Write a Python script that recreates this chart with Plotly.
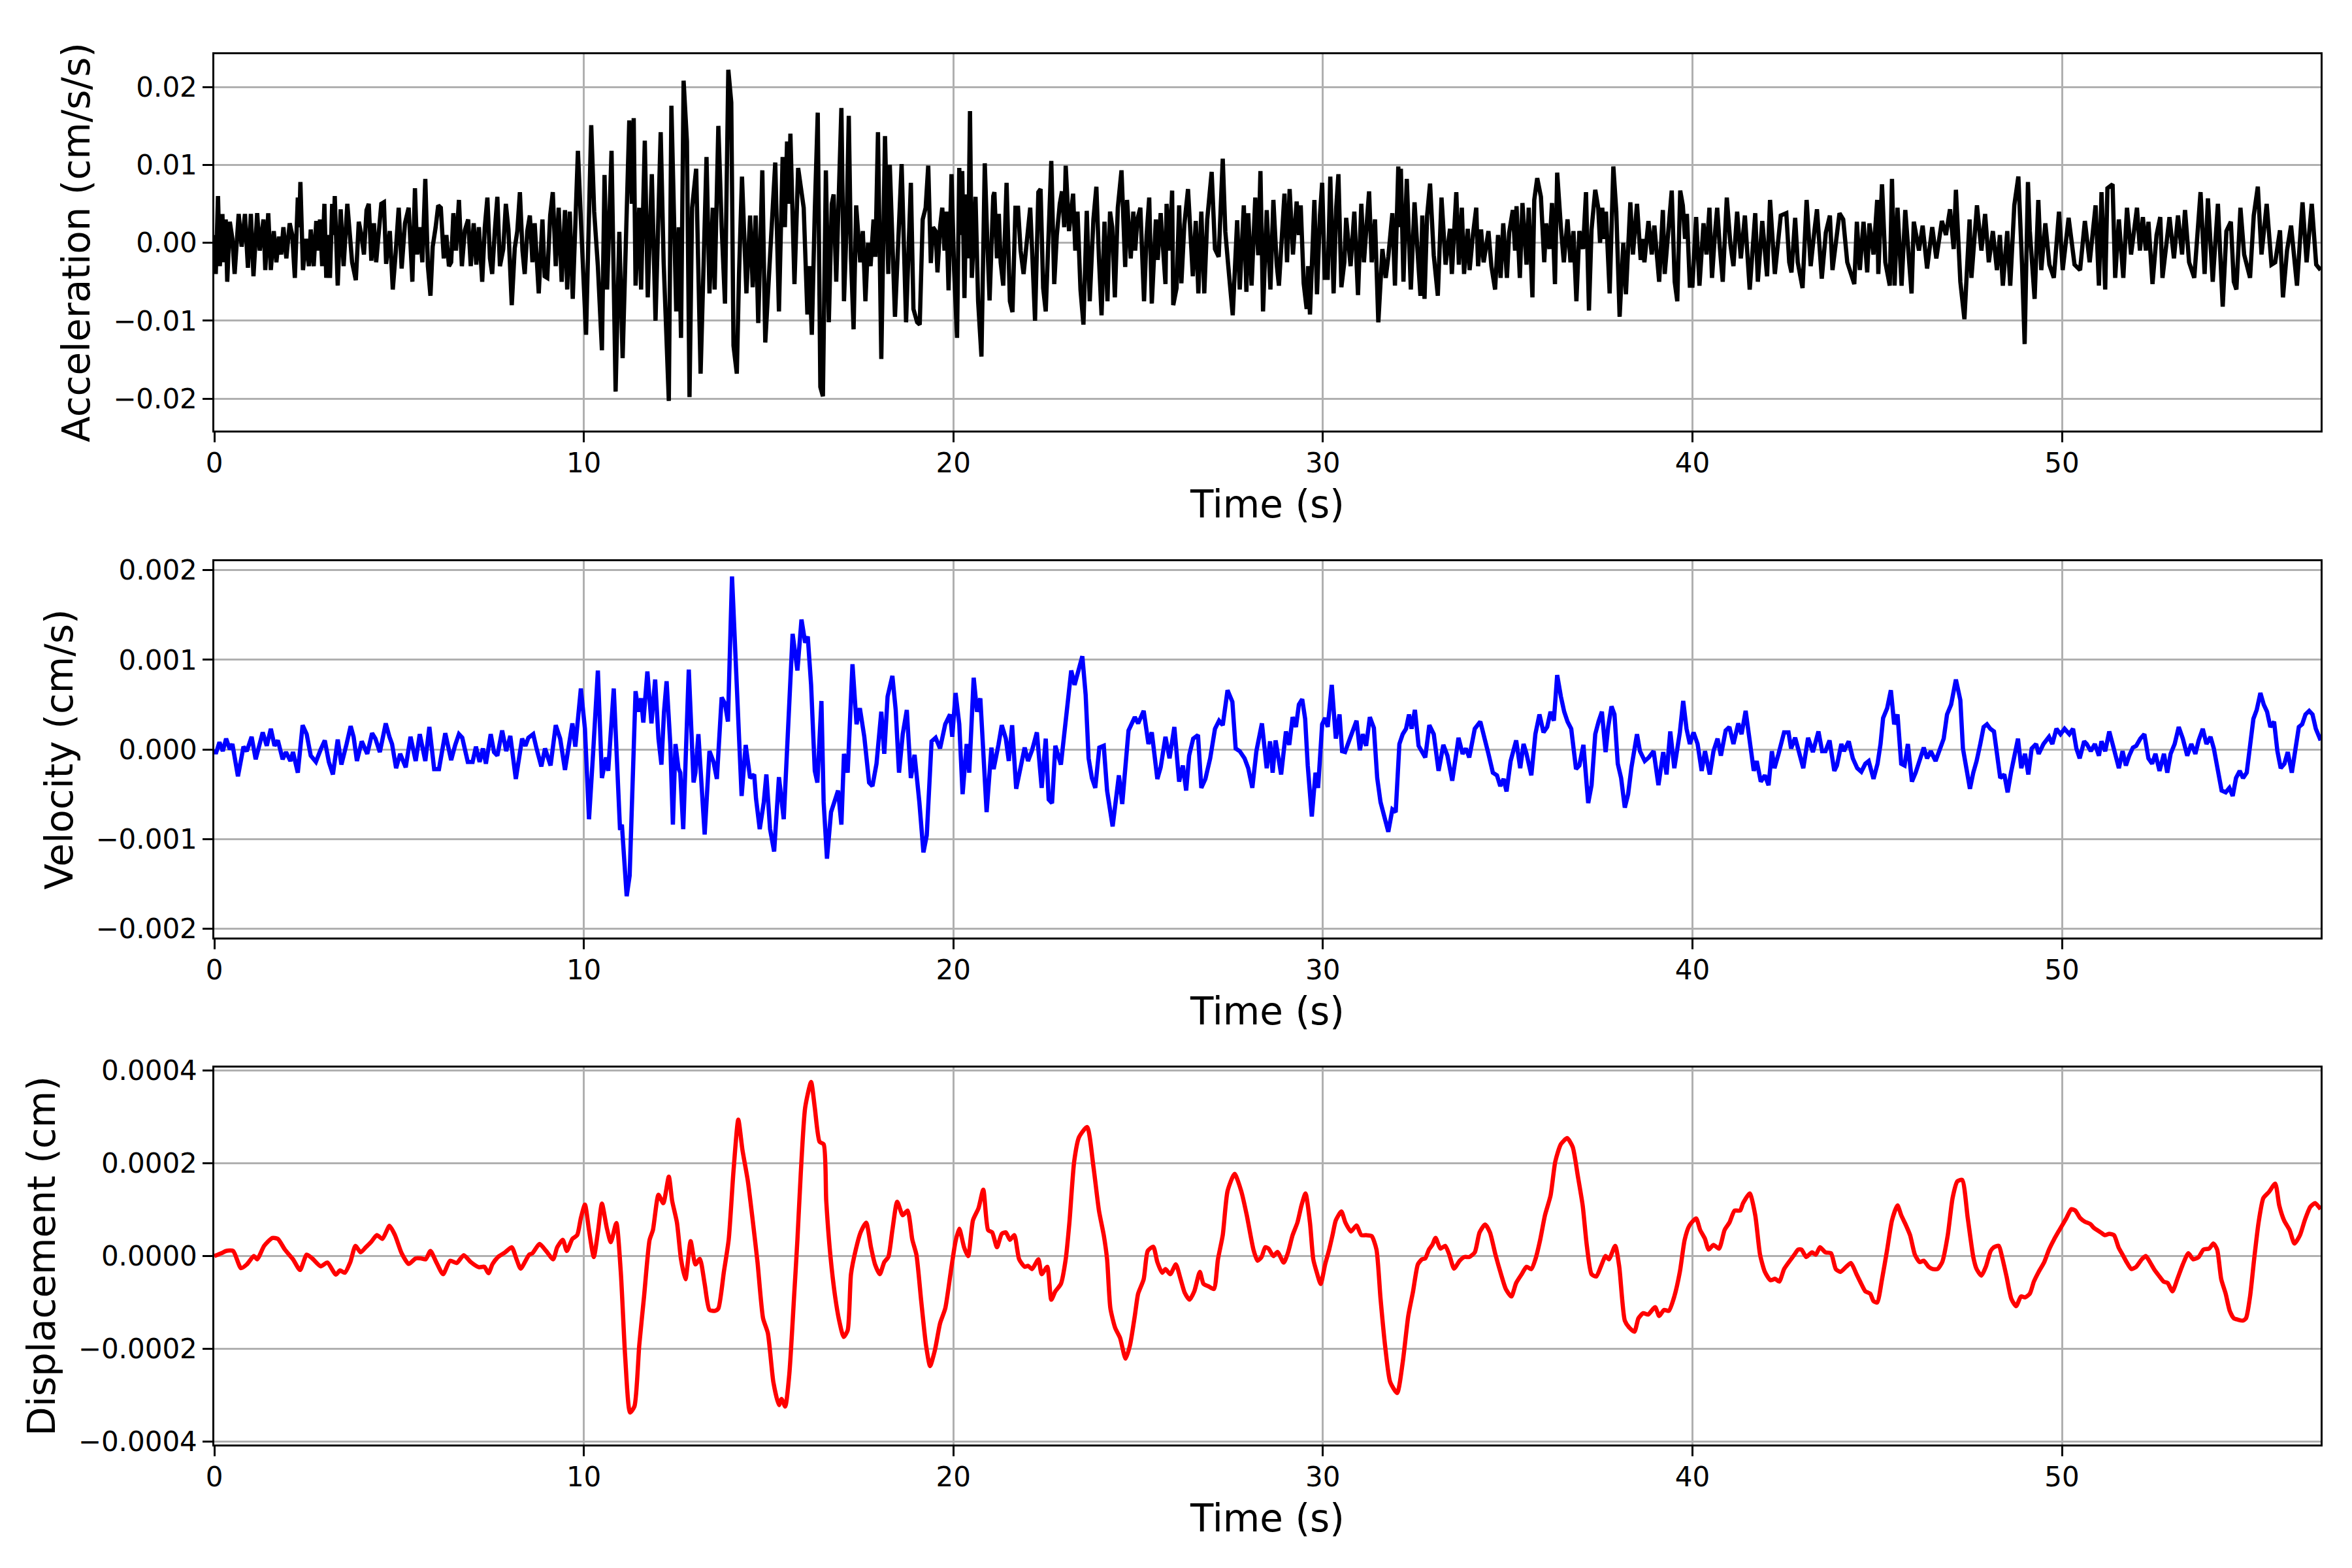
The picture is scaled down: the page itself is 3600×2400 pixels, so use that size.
"""
Three stacked panels of a ground-motion record: acceleration, velocity, displacement vs time.
Values were read off the reference picture at the turning points of each trace.
"""
import numpy as np
import plotly.graph_objects as go
from plotly.subplots import make_subplots

# --- acceleration, units of 1e-3 cm/s/s ---
acc_t_00 = [
    0.00, 0.04, 0.10, 0.15, 0.22, 0.26, 0.31, 0.35, 0.42, 0.49,
    0.55, 0.66, 0.74, 0.83, 0.91, 0.99, 1.06, 1.16, 1.23, 1.33,
    1.38, 1.46, 1.53, 1.61, 1.68, 1.75, 1.81, 1.87, 1.95, 2.04,
    2.11, 2.18, 2.26, 2.30, 2.33, 2.40, 2.48, 2.56, 2.61, 2.69,
    2.76, 2.82, 2.86, 2.92, 2.98, 3.03, 3.08, 3.13, 3.19, 3.23,
    3.26, 3.34, 3.42, 3.50, 3.60, 3.67, 3.73, 3.83, 3.91, 3.98,
    4.05, 4.12, 4.18, 4.25, 4.32, 4.38, 4.45, 4.52, 4.59, 4.65,
    4.75, 4.83, 4.91, 4.99,
]
acc_v_00 = [
    1.0, -4.0, 6.0, -3.0, 3.7, -2.5, 3.0, -5.0, 2.7, 0.5,
    -4.0, 3.7, -0.5, 3.7, -3.2, 3.7, -4.3, 3.8, -1.0, 3.0,
    -3.5, 3.8, -3.5, 1.5, -2.5, 0.8, -1.5, 2.0, -2.0, 2.5,
    1.0, -4.5, 5.8, 2.0, 7.8, -3.5, 0.5, -3.0, 1.7, -3.0,
    2.8, -1.0, 3.0, -3.0, 5.0, -4.5, 1.0, -4.5, 5.0, 1.0,
    6.0, -5.5, 4.3, -3.0, 5.0, 1.0, -2.5, -4.8, 2.7, 1.0,
    -1.5, 4.2, 5.0, -2.3, 2.5, -2.5, 1.0, 5.0, 5.2, -2.7,
    1.5, -6.0, -1.2, 4.5,
]
acc_t_05 = [
    5.07, 5.16, 5.26, 5.36, 5.43, 5.49, 5.56, 5.63, 5.71, 5.78,
    5.85, 5.91, 5.99, 6.06, 6.13, 6.21, 6.28, 6.35, 6.41, 6.47,
    6.54, 6.62, 6.70, 6.78, 6.87, 6.94, 7.02, 7.09, 7.16, 7.25,
    7.32, 7.39, 7.46, 7.52, 7.59, 7.66, 7.73, 7.82, 7.89, 7.96,
    8.05, 8.13, 8.20, 8.27, 8.34, 8.40, 8.47, 8.54, 8.61, 8.67,
    8.78, 8.88, 8.94, 9.01, 9.09, 9.16, 9.24, 9.32, 9.40, 9.49,
    9.55, 9.62,
]
acc_v_05 = [
    -3.3, 2.5, 4.5, -5.0, 7.0, -1.5, 2.0, -2.5, 8.2, -3.0,
    -6.8, -0.5, 2.0, 4.8, 4.5, -2.0, 1.0, -3.0, -2.5, 3.8,
    -1.0, 5.5, -3.0, 1.6, 3.0, -3.0, 2.5, -2.8, 2.0, -5.0,
    2.0, 5.8, -2.0, -4.0, 1.5, 5.9, -3.0, -0.8, 5.0, 1.7,
    -8.0, -0.7, 1.5, 6.5, -1.0, -4.0, 1.5, 3.5, -2.5, 2.5,
    -6.5, 3.0, -4.3, -4.5, 3.5, 6.5, -3.0, 4.5, -5.0, 4.2,
    -6.0, 4.0,
]
acc_t_10 = [
    9.70, 9.84, 9.92, 10.06, 10.20, 10.28, 10.38, 10.49, 10.56, 10.63,
    10.75, 10.86, 10.96, 11.05, 11.23, 11.30, 11.35, 11.40, 11.50, 11.55,
    11.65, 11.73, 11.84, 11.94, 12.08, 12.16, 12.30, 12.37, 12.50, 12.57,
    12.63, 12.70, 12.79, 12.86, 12.93, 13.04, 13.16, 13.32, 13.40, 13.49,
    13.54, 13.64, 13.73, 13.82, 13.91, 13.99, 14.05, 14.14, 14.20, 14.28,
    14.40, 14.50, 14.57, 14.65, 14.72, 14.83, 14.91, 15.03,
]
acc_v_10 = [
    -7.2, 11.8, 3.0, -11.8, 15.1, 4.0, -3.0, -13.8, 8.7, -6.0,
    11.8, -19.1, 1.4, -14.8, 15.7, 5.0, 16.0, -5.5, 4.5, -6.0,
    13.1, -7.0, 8.8, -10.0, 14.2, -2.5, -20.3, 17.6, -8.8, 2.0,
    -12.2, 20.8, 13.0, -19.8, 4.5, 9.5, -16.8, 11.0, -6.5, 4.5,
    -6.0, 15.0, 2.0, -7.8, 22.2, 18.0, -13.2, -16.8, -4.0, 8.5,
    -6.5, 3.5, -5.7, 3.5, -10.3, 9.3, -12.8, -2.5,
]
acc_t_15 = [
    15.18, 15.28, 15.38, 15.44, 15.50, 15.55, 15.59, 15.70, 15.80, 15.95,
    16.05, 16.10, 16.17, 16.25, 16.33, 16.40, 16.47, 16.55, 16.63, 16.71,
    16.76, 16.83, 16.88, 16.97, 17.04, 17.11, 17.17, 17.23, 17.30, 17.37,
    17.48, 17.55, 17.62, 17.69, 17.76, 17.84, 17.89, 17.96, 18.05, 18.15,
    18.24, 18.28, 18.42, 18.50, 18.60, 18.72, 18.79, 18.85, 18.92, 19.02,
    19.09, 19.17, 19.25, 19.32, 19.39, 19.45, 19.52, 19.57, 19.64, 19.70,
    19.76, 19.81, 19.87, 19.95,
]
acc_v_15 = [
    10.3, -8.8, 11.0, 2.0, 13.0, 5.0, 14.0, -5.3, 9.6, 4.5,
    -9.2, -3.0, -11.8, 4.0, 16.7, -18.5, -19.7, 9.3, -10.2, 5.0,
    6.2, -5.0, 4.8, 17.3, -7.5, 2.0, 16.3, -2.0, -11.1, 4.8,
    -2.5, 1.5, -7.5, 0.0, -3.0, 3.0, -1.8, 14.2, -14.9, 13.7,
    -4.0, 10.0, -9.5, 0.5, 10.1, -10.2, -1.5, 7.7, -8.5, -10.2,
    -10.5, 3.0, 4.5, 9.9, -2.6, 2.0, 1.5, -3.8, 2.0, 4.5,
    -1.0, 4.0, -6.1, 8.8,
]
acc_t_20 = [
    20.02, 20.10, 20.16, 20.20, 20.24, 20.30, 20.35, 20.40, 20.45, 20.50,
    20.60, 20.67, 20.76, 20.85, 20.92, 20.98, 21.08, 21.11, 21.18, 21.23,
    21.28, 21.35, 21.44, 21.53, 21.60, 21.68, 21.75, 21.82, 21.90, 22.00,
    22.08, 22.14, 22.21, 22.30, 22.36, 22.43, 22.50, 22.60, 22.65, 22.73,
    22.80, 22.88, 22.94, 23.00, 23.04, 23.13, 23.24, 23.30, 23.36, 23.44,
    23.52, 23.61, 23.69, 23.79, 23.87, 23.94, 24.01, 24.09, 24.17, 24.24,
    24.30, 24.37, 24.45, 24.55, 24.65, 24.70, 24.80, 24.87, 24.92, 24.98,
    25.06, 25.16, 25.23, 25.30,
]
acc_v_20 = [
    -3.5, -12.2, 9.6, 1.0, 9.2, -7.1, 6.2, -2.0, 16.9, -4.5,
    5.9, -7.5, -14.6, 10.2, 0.0, -7.4, 6.0, 6.5, -2.0, 3.7,
    -2.5, -5.5, 7.7, -7.5, -8.9, 4.5, 4.5, -1.0, -4.0, 1.0,
    4.5, -2.0, -10.0, 6.5, 6.9, -5.8, -8.8, 4.0, 10.5, -5.3,
    1.0, 5.0, 6.6, 2.0, 9.9, 1.5, 6.3, -1.0, 4.0, -6.0,
    -10.5, 4.1, -7.5, 3.0, 7.2, -2.0, -9.3, 2.7, -7.5, 4.0,
    2.0, -7.0, 4.5, 9.3, -3.1, 5.5, -2.0, 4.0, -1.0, 3.0,
    4.5, -7.5, 1.0, 5.8,
]
acc_t_25 = [
    25.37, 25.48, 25.53, 25.61, 25.74, 25.77, 25.85, 25.92, 25.95, 26.04,
    26.11, 26.17, 26.25, 26.35, 26.48, 26.56, 26.63, 26.71, 26.79, 26.87,
    26.99, 27.08, 27.18, 27.29, 27.36, 27.44, 27.56, 27.68, 27.75, 27.86,
    27.93, 27.98, 28.07, 28.17, 28.25, 28.31, 28.38, 28.48, 28.58, 28.66,
    28.75, 28.81, 28.88, 28.96, 29.03, 29.10, 29.19, 29.29, 29.35, 29.40,
    29.48, 29.56, 29.60, 29.65, 29.77, 29.84, 29.92, 29.98,
]
acc_v_25 = [
    -7.8, 3.0, -2.2, 3.8, -5.3, 5.0, -1.0, 6.7, -8.0, -5.8,
    4.8, -5.2, 2.3, 6.9, -4.3, 2.8, -6.5, 4.0, -6.5, 3.0,
    9.1, -0.8, -1.8, 10.8, 1.4, -3.0, -9.3, 2.9, -6.0, 4.8,
    -6.3, 3.8, -5.5, 5.8, -1.6, 9.2, -8.8, 4.2, -6.0, 5.5,
    -2.8, -5.5, 1.0, 6.3, -2.5, 6.9, -1.5, 5.3, 1.0, 4.8,
    -5.2, -8.5, -3.0, -9.2, 5.5, -6.6, 3.5, 7.7,
]
acc_t_30 = [
    30.05, 30.13, 30.20, 30.29, 30.36, 30.42, 30.50, 30.58, 30.63, 30.75,
    30.85, 30.95, 31.04, 31.11, 31.25, 31.32, 31.41, 31.50, 31.61, 31.70,
    31.77, 31.88, 31.95, 32.04, 32.08, 32.11, 32.18, 32.27, 32.38, 32.48,
    32.56, 32.64, 32.69, 32.75, 32.82, 32.90, 33.00, 33.11, 33.21, 33.32,
    33.44, 33.49, 33.61, 33.68, 33.76, 33.82, 33.92, 33.97, 34.06, 34.15,
    34.20, 34.28, 34.35, 34.48, 34.56, 34.66, 34.74, 34.81, 34.88, 34.98,
]
acc_v_30 = [
    -4.5, -4.5, 8.5, -6.5, 4.5, 8.8, -5.7, -2.5, 3.2, -3.0,
    4.0, -6.7, 5.0, -2.5, 6.6, -2.5, 3.0, -10.2, -0.8, -4.5,
    -1.8, 3.8, -5.5, 9.8, 2.0, 9.5, -5.0, 8.2, -6.0, 5.2,
    -1.0, -6.8, 3.5, -7.2, 3.5, 7.6, -1.6, -6.8, 5.8, -2.8,
    1.8, -4.0, 6.5, -2.8, 4.5, -4.0, 1.8, -3.5, 1.0, 4.5,
    -3.0, 1.7, -2.5, 1.5, -3.0, -6.0, 1.0, -4.5, 2.5, -4.5,
]
acc_t_35 = [
    35.04, 35.14, 35.20, 35.24, 35.33, 35.40, 35.51, 35.57, 35.67, 35.72,
    35.80, 35.90, 35.99, 36.04, 36.13, 36.20, 36.28, 36.34, 36.44, 36.52,
    36.62, 36.70, 36.78, 36.86, 36.94, 37.04, 37.12, 37.20, 37.27, 37.37,
    37.45, 37.50, 37.56, 37.61, 37.66, 37.76, 37.86, 37.94, 38.03, 38.13,
    38.20, 38.32, 38.39, 38.50, 38.60, 38.65, 38.70, 38.81, 38.90, 38.97,
    39.10, 39.20, 39.25, 39.34, 39.44, 39.52, 39.59, 39.67, 39.74, 39.80,
    39.85, 39.93, 40.00, 40.10, 40.19, 40.30, 40.38, 40.46, 40.53, 40.61,
    40.67, 40.74, 40.82, 40.93, 41.03,
]
acc_v_35 = [
    1.3, 4.2, -1.0, 4.7, -4.5, 5.1, -2.8, 4.5, -7.0, 5.5,
    8.3, 5.9, -2.5, 2.5, -0.8, 5.1, -5.3, 9.0, 2.0, -2.5,
    3.0, -2.5, 1.5, -7.5, 1.5, -0.8, 6.5, -8.7, 1.7, 6.8,
    4.5, 0.0, 4.5, 0.5, 4.0, -6.5, 9.8, 4.0, -9.5, 0.0,
    -6.6, 5.2, -1.5, 5.0, -2.2, 0.5, -2.5, 2.8, -1.5, 2.2,
    -5.0, 4.2, -4.0, 1.5, 6.7, -5.0, -7.5, 6.7, 4.8, 0.5,
    3.7, -5.5, -5.5, 3.3, -5.5, 2.5, -1.5, 4.5, -4.5, 1.2,
    4.5, -0.5, -5.0, 5.8, -0.3,
]
acc_t_41 = [
    41.11, 41.21, 41.31, 41.42, 41.55, 41.70, 41.77, 41.89, 42.02, 42.10,
    42.23, 42.39, 42.54, 42.62, 42.68, 42.78, 42.85, 42.98, 43.09, 43.20,
    43.30, 43.37, 43.50, 43.61, 43.72, 43.79, 43.98, 44.08, 44.19, 44.38,
    44.45, 44.53, 44.63, 44.73, 44.79, 44.90, 45.00, 45.03, 45.13, 45.22,
    45.34, 45.40, 45.47, 45.55, 45.66, 45.76, 45.93, 45.99,
]
acc_v_41 = [
    -3.0, 4.0, -2.0, 3.5, -6.0, 3.8, -5.0, 2.8, -4.3, 5.5,
    -4.0, 3.5, 3.8, -2.5, -3.8, 3.2, -2.5, -5.8, 5.5, -3.0,
    1.5, 4.3, -4.6, 1.3, 3.5, -3.5, 3.8, 3.0, -2.5, -5.3,
    2.7, -3.5, 2.7, -3.8, 2.5, -1.5, 5.5, -4.0, 7.5, -2.5,
    -5.5, 8.2, -5.5, 4.5, -5.5, 4.2, -6.5, 2.7,
]
acc_t_46 = [
    46.13, 46.23, 46.35, 46.49, 46.60, 46.75, 46.86, 46.97, 47.07, 47.13,
    47.25, 47.36, 47.50, 47.55, 47.70, 47.82, 47.92, 48.02, 48.13, 48.24,
    48.32, 48.40, 48.52, 48.60, 48.71, 48.82, 48.92, 48.99, 49.08, 49.13,
    49.26, 49.36, 49.44, 49.55, 49.66, 49.78, 49.92, 50.02, 50.18, 50.34,
    50.49, 50.62, 50.75, 50.91, 51.00, 51.07, 51.17, 51.23, 51.37, 51.44,
    51.54, 51.66, 51.76, 51.87, 52.03, 52.11, 52.19, 52.27, 52.34, 52.45,
    52.56, 52.66, 52.72, 52.91, 53.03, 53.14, 53.25, 53.33, 53.44, 53.58,
    53.75, 53.86, 53.95, 54.08, 54.22, 54.35, 54.45, 54.57, 54.65, 54.72,
    54.83, 54.93, 55.09, 55.19, 55.30, 55.40, 55.54, 55.67, 55.77, 55.90,
    55.98, 56.09, 56.20, 56.36, 56.51, 56.62, 56.76, 56.88, 57.00,
]
acc_v_46 = [
    -1.0, 2.2, -3.3, 2.0, -2.0, 2.8, 1.0, 4.3, -0.8, 6.8,
    -5.0, -9.8, 3.0, -4.5, 4.8, -1.0, 3.7, -2.5, 1.5, -3.5,
    1.0, -5.5, 1.5, -5.5, 4.8, 8.5, -2.8, -13.0, 7.8, 1.5,
    -7.2, 5.5, -3.5, 2.5, -2.8, -4.5, 4.0, -3.5, 3.2, -2.8,
    -3.5, 2.8, -2.5, 4.8, -5.5, 6.5, -6.0, 7.0, 7.5, -4.5,
    3.0, -4.5, 4.5, -1.5, 4.5, -1.0, 3.3, -1.0, 2.7, -5.3,
    1.0, 3.3, -4.5, 3.3, -2.0, 3.5, -1.5, 4.2, -2.5, -4.5,
    6.5, -4.0, 5.7, -5.0, 5.0, -8.2, 1.5, 2.7, -5.0, -6.0,
    4.5, -1.5, -4.5, 3.5, 7.2, -1.5, 5.0, -2.8, -2.5, 1.6,
    -7.0, -1.0, 2.2, -5.5, 5.2, -2.5, 5.0, -2.8, -3.5,
]

# --- velocity, units of 1e-3 cm/s ---
vel_t_00 = [
    0.00, 0.04, 0.14, 0.23, 0.32, 0.42, 0.49, 0.64, 0.79, 0.88,
    1.01, 1.12, 1.31, 1.42, 1.53, 1.63, 1.72, 1.85, 1.94, 2.06,
    2.13, 2.26, 2.39, 2.50, 2.61, 2.75, 2.88, 2.99, 3.10, 3.21,
    3.34, 3.44, 3.58, 3.69, 3.77, 3.86, 3.99, 4.14, 4.27, 4.36,
    4.48, 4.64, 4.74, 4.81, 4.92, 5.03, 5.18, 5.31, 5.45, 5.56,
    5.71, 5.82, 5.95, 6.08, 6.25, 6.41, 6.52, 6.62, 6.71, 6.86,
    6.99, 7.08, 7.18, 7.27, 7.35, 7.48, 7.57, 7.66, 7.79, 7.90,
    8.01, 8.16, 8.33, 8.42, 8.50, 8.63, 8.72, 8.85, 8.95, 9.10,
    9.24, 9.36, 9.49, 9.58, 9.69, 9.77, 9.92,
]
vel_v_00 = [
    0.0, -0.05, 0.08, -0.02, 0.12, 0.0, 0.06, -0.3, 0.03, -0.02,
    0.14, -0.11, 0.19, 0.04, 0.23, 0.04, 0.1, -0.11, -0.03, -0.13,
    -0.03, -0.26, 0.27, 0.17, -0.07, -0.14, 0.0, 0.1, -0.14, -0.28,
    0.11, -0.17, 0.06, 0.26, 0.14, -0.13, 0.09, -0.05, 0.18, 0.12,
    -0.03, 0.29, 0.14, 0.06, -0.21, -0.05, -0.2, 0.14, -0.13, 0.17,
    -0.13, 0.25, -0.22, -0.22, 0.18, -0.12, 0.05, 0.17, 0.13, -0.14,
    -0.14, 0.03, -0.14, 0.01, -0.16, 0.17, -0.03, -0.07, 0.21, -0.02,
    0.15, -0.33, 0.12, 0.04, 0.13, 0.17, 0.01, -0.19, 0.01, -0.18,
    0.27, 0.12, -0.23, -0.02, 0.29, 0.03, 0.68,
]
vel_t_10 = [
    10.03, 10.14, 10.25, 10.38, 10.49, 10.60, 10.66, 10.81, 10.98, 11.03,
    11.16, 11.24, 11.40, 11.48, 11.55, 11.61, 11.72, 11.83, 11.93, 12.02,
    12.10, 12.17, 12.24, 12.34, 12.41, 12.48, 12.56, 12.61, 12.69, 12.84,
    12.97, 13.02, 13.10, 13.27, 13.40, 13.51, 13.60, 13.73, 13.82, 13.90,
    14.01, 14.10, 14.20, 14.27, 14.38, 14.50, 14.61, 14.66, 14.76, 14.87,
    14.94, 15.04, 15.15, 15.28, 15.41, 15.54, 15.65, 15.78, 15.89, 15.99,
    16.06, 16.15, 16.25, 16.32, 16.43, 16.49, 16.58, 16.69, 16.80, 16.88,
    16.97, 17.04, 17.14, 17.27, 17.38, 17.47, 17.59, 17.72, 17.81, 17.92,
    18.05, 18.13, 18.22, 18.35, 18.44, 18.53, 18.63, 18.74, 18.85, 18.95,
    19.08, 19.19, 19.28, 19.41, 19.52, 19.64, 19.78, 19.91, 19.97,
]
vel_v_10 = [
    0.23, -0.78, -0.05, 0.88, -0.32, -0.09, -0.24, 0.68, -0.9, -0.84,
    -1.64, -1.41, 0.65, 0.42, 0.57, 0.3, 0.87, 0.29, 0.78, 0.12,
    -0.17, 0.42, 0.76, 0.06, -0.84, 0.06, -0.21, -0.26, -0.89, 0.89,
    -0.37, -0.26, 0.17, -0.95, -0.02, -0.14, -0.33, 0.58, 0.51, 0.31,
    1.93, 1.07, 0.17, -0.52, 0.05, -0.32, -0.28, -0.55, -0.89, -0.59,
    -0.28, -0.89, -1.14, -0.31, -0.78, 0.36, 1.29, 0.88, 1.45, 1.19,
    1.26, 0.72, -0.24, -0.37, 0.54, -0.59, -1.22, -0.7, -0.58, -0.46,
    -0.84, -0.05, -0.26, 0.95, 0.28, 0.46, 0.14, -0.37, -0.41, -0.16,
    0.42, -0.05, 0.59, 0.82, 0.44, -0.26, 0.17, 0.44, -0.32, -0.06,
    -0.59, -1.15, -0.96, 0.09, 0.13, 0.01, 0.28, 0.39, 0.14,
]
vel_t_20 = [
    20.06, 20.16, 20.25, 20.36, 20.43, 20.55, 20.64, 20.73, 20.90, 21.03,
    21.09, 21.22, 21.31, 21.42, 21.50, 21.59, 21.70, 21.83, 21.93, 22.02,
    22.13, 22.26, 22.39, 22.50, 22.58, 22.67, 22.76, 22.91, 23.06, 23.19,
    23.28, 23.36, 23.49, 23.58, 23.66, 23.75, 23.84, 23.95, 24.07, 24.16,
    24.31, 24.48, 24.57, 24.74, 24.91, 25.00, 25.15, 25.28, 25.37, 25.52,
    25.61, 25.74, 25.85, 25.98, 26.11, 26.21, 26.30, 26.38, 26.49, 26.62,
    26.71, 26.82, 26.95, 27.08, 27.19, 27.29, 27.42, 27.55, 27.64, 27.75,
    27.88, 27.98, 28.09, 28.20, 28.35, 28.48, 28.57, 28.64, 28.72, 28.87,
]
vel_v_20 = [
    0.63, 0.28, -0.5, 0.06, -0.26, 0.8, 0.42, 0.57, -0.7, 0.02,
    -0.22, 0.05, 0.27, 0.12, -0.13, 0.27, -0.44, -0.18, 0.02, -0.13,
    -0.01, 0.19, -0.43, 0.12, -0.56, -0.6, 0.04, -0.17, 0.39, 0.88,
    0.72, 0.85, 1.04, 0.61, -0.1, -0.32, -0.43, 0.02, 0.04, -0.46,
    -0.86, -0.29, -0.61, 0.21, 0.36, 0.29, 0.43, 0.06, 0.19, -0.33,
    -0.2, 0.14, -0.1, 0.25, -0.36, -0.18, -0.46, -0.07, 0.12, 0.16,
    -0.43, -0.33, -0.1, 0.23, 0.32, 0.27, 0.66, 0.53, 0.01, -0.02,
    -0.1, -0.21, -0.43, -0.02, 0.29, -0.21, 0.09, -0.26, 0.1, -0.28,
]
vel_t_29 = [
    29.00, 29.09, 29.18, 29.27, 29.35, 29.44, 29.52, 29.59, 29.70, 29.80,
    29.87, 29.98, 30.06, 30.13, 30.24, 30.35, 30.45, 30.52, 30.60, 30.73,
    30.82, 30.91, 31.00, 31.08, 31.17, 31.27, 31.38, 31.47, 31.56, 31.66,
    31.77, 31.88, 31.97, 32.07, 32.16, 32.25, 32.33, 32.40, 32.49, 32.59,
    32.77, 32.88, 33.00, 33.13, 33.26, 33.37, 33.50, 33.59, 33.67, 33.78,
    33.87, 33.96, 34.11, 34.26, 34.39, 34.48, 34.60, 34.71, 34.80, 34.89,
    34.97, 35.08, 35.23, 35.34, 35.43, 35.51, 35.64, 35.75, 35.86, 35.97,
    36.07, 36.16, 36.25, 36.34, 36.44, 36.53, 36.62, 36.72, 36.85, 36.94,
    37.05, 37.18, 37.27, 37.37, 37.46, 37.55, 37.65, 37.72, 37.81, 37.89,
    37.98, 38.07, 38.17, 38.26, 38.35, 38.50, 38.58, 38.71, 38.82, 38.95,
    39.08, 39.21, 39.30, 39.40, 39.51, 39.66, 39.75, 39.84, 39.93, 40.03,
]
vel_v_29 = [
    0.2, 0.05, 0.36, 0.25, 0.5, 0.56, 0.34, -0.18, -0.75, -0.26,
    -0.43, 0.28, 0.35, 0.25, 0.72, 0.12, 0.39, -0.02, -0.03, 0.12,
    0.23, 0.32, -0.01, 0.17, 0.04, 0.36, 0.24, -0.32, -0.59, -0.75,
    -0.92, -0.67, -0.7, 0.06, 0.17, 0.23, 0.39, 0.23, 0.44, 0.04,
    -0.09, 0.27, 0.17, -0.24, 0.05, -0.07, -0.35, -0.1, 0.13, -0.05,
    0.01, -0.09, 0.23, 0.31, 0.12, -0.05, -0.26, -0.29, -0.41, -0.33,
    -0.47, -0.13, 0.1, -0.21, 0.06, -0.05, -0.29, 0.17, 0.39, 0.19,
    0.25, 0.42, 0.32, 0.83, 0.59, 0.42, 0.31, 0.23, -0.22, -0.18,
    0.05, -0.6, -0.4, 0.17, 0.31, 0.42, -0.03, 0.25, 0.48, 0.39,
    -0.16, -0.32, -0.65, -0.5, -0.2, 0.17, -0.02, -0.13, -0.09, -0.02,
    -0.4, -0.03, -0.28, 0.2, -0.21, 0.19, 0.54, 0.23, 0.06, 0.19,
]
vel_t_40 = [
    40.14, 40.25, 40.34, 40.47, 40.57, 40.68, 40.77, 40.90, 41.00, 41.11,
    41.24, 41.33, 41.44, 41.55, 41.66, 41.74, 41.85, 41.96, 42.06, 42.15,
    42.22, 42.33, 42.48, 42.60, 42.67, 42.78, 42.89, 43.00, 43.13, 43.26,
    43.41, 43.51, 43.60, 43.71, 43.84, 43.91, 44.03, 44.10, 44.23, 44.34,
    44.46, 44.57, 44.68, 44.77, 44.90, 45.01, 45.09, 45.16, 45.27, 45.37,
    45.46, 45.55, 45.65, 45.74, 45.83, 45.94, 46.04, 46.13, 46.26, 46.35,
    46.45, 46.58, 46.67, 46.80, 46.89, 47.00, 47.13, 47.25, 47.32, 47.41,
    47.51, 47.60, 47.69, 47.79, 47.88, 47.97, 48.06, 48.16, 48.25, 48.33,
    48.44, 48.53, 48.62, 48.73, 48.81, 48.90, 49.00, 49.09, 49.18, 49.30,
    49.37, 49.50, 49.65, 49.74, 49.85, 49.96, 50.07, 50.20, 50.30, 50.39,
    50.48, 50.60, 50.67, 50.78, 50.89, 51.00, 51.07, 51.17, 51.28, 51.37,
    51.45, 51.54, 51.64, 51.73, 51.82, 51.92, 52.01, 52.12, 52.23, 52.34,
    52.44, 52.53, 52.64, 52.76, 52.85, 52.94, 53.05, 53.16, 53.27, 53.39,
    53.50, 53.61, 53.70, 53.81, 53.91, 54.02, 54.11, 54.23, 54.32, 54.43,
    54.53, 54.62, 54.71, 54.81, 54.90, 55.00, 55.08, 55.18, 55.27, 55.37,
    55.46, 55.55, 55.64, 55.74, 55.83, 55.92, 56.02, 56.11, 56.22, 56.32,
    56.41, 56.50, 56.59, 56.69, 56.78, 56.87, 57.00,
]
vel_v_40 = [
    0.06, -0.24, -0.02, -0.28, -0.02, 0.12, -0.07, 0.21, 0.25, 0.06,
    0.29, 0.17, 0.43, 0.06, -0.24, -0.13, -0.36, -0.29, -0.4, -0.02,
    -0.21, -0.05, 0.19, 0.19, 0.01, 0.13, -0.02, -0.21, 0.13, -0.03,
    0.2, -0.02, -0.02, 0.1, -0.24, -0.18, 0.06, -0.02, 0.09, -0.1,
    -0.21, -0.25, -0.16, -0.13, -0.33, -0.16, 0.06, 0.35, 0.46, 0.66,
    0.28, 0.39, -0.16, -0.18, 0.06, -0.36, -0.26, -0.14, 0.02, -0.1,
    -0.02, -0.13, -0.02, 0.12, 0.39, 0.5, 0.78, 0.55, 0.01, -0.21,
    -0.44, -0.26, -0.13, 0.06, 0.25, 0.28, 0.23, 0.2, -0.13, -0.32,
    -0.28, -0.48, -0.26, -0.02, 0.12, -0.21, -0.05, -0.28, 0.01, 0.06,
    -0.05, 0.06, 0.14, 0.06, 0.23, 0.17, 0.23, 0.17, 0.23, 0.01,
    -0.1, 0.09, 0.06, -0.02, 0.06, -0.07, 0.09, -0.02, 0.2, 0.06,
    -0.05, -0.21, -0.02, -0.18, -0.07, 0.02, 0.04, 0.12, 0.17, -0.1,
    -0.16, -0.05, -0.24, -0.05, -0.26, -0.05, 0.06, 0.25, 0.12, -0.07,
    0.06, -0.05, 0.1, 0.23, 0.06, 0.14, 0.01, -0.26, -0.46, -0.48,
    -0.43, -0.52, -0.32, -0.24, -0.32, -0.26, -0.02, 0.34, 0.44, 0.63,
    0.5, 0.42, 0.25, 0.31, -0.02, -0.21, -0.16, -0.03, -0.26, 0.04,
    0.25, 0.28, 0.39, 0.43, 0.39, 0.23, 0.1,
]

# --- displacement, units of 1e-4 cm ---
disp_t_00 = [
    0.00, 0.19, 0.32, 0.51, 0.72, 0.88, 1.07, 1.16, 1.35, 1.57,
    1.72, 1.91, 2.13, 2.32, 2.50, 2.65, 2.88, 3.06, 3.29, 3.40,
    3.53, 3.68, 3.82, 3.96, 4.10, 4.24, 4.40, 4.55, 4.74, 4.89,
    5.07, 5.26, 5.45, 5.59, 5.72, 5.85, 6.00, 6.19, 6.38, 6.56,
    6.75, 6.94, 7.16, 7.31, 7.42, 7.53, 7.68, 7.87, 8.05, 8.18,
    8.29, 8.52, 8.61, 8.80, 8.98, 9.17, 9.28, 9.43, 9.54, 9.69,
    9.82, 9.92,
]
disp_v_00 = [
    0.0, 0.06, 0.11, 0.11, -0.26, -0.18, 0.0, -0.07, 0.22, 0.39,
    0.37, 0.14, -0.07, -0.3, 0.03, -0.05, -0.22, -0.14, -0.4, -0.31,
    -0.36, -0.13, 0.22, 0.08, 0.19, 0.3, 0.45, 0.37, 0.65, 0.45,
    0.06, -0.17, -0.05, -0.05, -0.07, 0.11, -0.12, -0.39, -0.1, -0.15,
    0.02, -0.13, -0.24, -0.23, -0.37, -0.17, -0.02, 0.08, 0.19, -0.07,
    -0.27, 0.03, 0.06, 0.26, 0.11, -0.07, 0.19, 0.35, 0.11, 0.37,
    0.45, 0.82,
]
disp_t_10 = [
    10.03, 10.14, 10.27, 10.38, 10.49, 10.62, 10.73, 10.88, 11.00, 11.12,
    11.25, 11.37, 11.50, 11.63, 11.78, 11.87, 12.02, 12.15, 12.30, 12.39,
    12.52, 12.63, 12.75, 12.89, 13.02, 13.14, 13.27, 13.40, 13.55, 13.64,
    13.79, 13.92, 14.05, 14.18, 14.29, 14.44, 14.57, 14.70, 14.85, 14.98,
    15.13, 15.28, 15.35, 15.45, 15.56, 15.69, 15.78, 15.87, 15.99, 16.15,
    16.25, 16.38, 16.49, 16.56, 16.67, 16.80, 16.91, 17.03, 17.14, 17.23,
    17.36, 17.49, 17.64, 17.77, 17.88, 18.01, 18.13, 18.24, 18.35, 18.48,
    18.63, 18.76, 18.89, 19.00, 19.13, 19.26, 19.37, 19.50, 19.64, 19.78,
    19.93,
]
disp_v_10 = [
    1.11, 0.56, -0.02, 0.51, 1.13, 0.61, 0.3, 0.71, -0.34, -2.18,
    -3.37, -3.24, -1.92, -0.87, 0.35, 0.56, 1.32, 1.14, 1.71, 1.19,
    0.72, -0.07, -0.5, 0.32, -0.18, -0.06, -0.6, -1.16, -1.18, -1.13,
    -0.34, 0.35, 1.83, 2.94, 2.3, 1.61, 0.77, -0.13, -1.34, -1.66,
    -2.72, -3.21, -3.08, -3.24, -2.55, -0.87, 0.35, 1.77, 3.2, 3.75,
    3.2, 2.46, 2.41, 1.19, 0.03, -0.87, -1.39, -1.74, -1.6, -0.39,
    0.14, 0.51, 0.72, 0.19, -0.18, -0.39, -0.13, -0.02, 0.56, 1.17,
    0.88, 0.98, 0.35, 0.03, -0.97, -1.92, -2.37, -2.03, -1.45, -1.13,
    -0.34,
]
disp_t_20 = [
    20.06, 20.16, 20.29, 20.40, 20.53, 20.68, 20.81, 20.94, 21.05, 21.18,
    21.31, 21.42, 21.53, 21.65, 21.78, 21.93, 22.02, 22.13, 22.30, 22.39,
    22.54, 22.65, 22.76, 22.91, 23.04, 23.14, 23.27, 23.40, 23.62, 23.79,
    23.94, 24.07, 24.16, 24.25, 24.38, 24.51, 24.66, 24.78, 24.91, 25.00,
    25.15, 25.26, 25.41, 25.52, 25.65, 25.74, 25.87, 26.02, 26.15, 26.26,
    26.39, 26.52, 26.67, 26.77, 26.90, 27.05, 27.16, 27.29, 27.42, 27.61,
    27.79, 27.94,
]
disp_v_20 = [
    0.32, 0.59, 0.19, 0.0, 0.77, 1.03, 1.43, 0.56, 0.51, 0.19,
    0.48, 0.51, 0.35, 0.45, -0.07, -0.23, -0.21, -0.28, -0.07, -0.39,
    -0.23, -0.94, -0.76, -0.6, -0.07, 0.72, 2.04, 2.56, 2.78, 1.93,
    0.98, 0.45, -0.07, -1.13, -1.55, -1.76, -2.21, -1.92, -1.29, -0.81,
    -0.5, 0.11, 0.2, -0.13, -0.36, -0.28, -0.39, -0.18, -0.5, -0.79,
    -0.94, -0.76, -0.34, -0.6, -0.65, -0.71, -0.07, 0.45, 1.4, 1.77,
    1.4, 0.88,
]
disp_t_28 = [
    28.12, 28.23, 28.34, 28.44, 28.53, 28.66, 28.77, 28.94, 29.05, 29.18,
    29.31, 29.42, 29.53, 29.65, 29.74, 29.83, 29.94, 30.06, 30.17, 30.26,
    30.35, 30.50, 30.61, 30.76, 30.91, 31.04, 31.17, 31.32, 31.45, 31.56,
    31.69, 31.82, 32.01, 32.16, 32.31, 32.44, 32.57, 32.68, 32.77, 32.87,
    32.96, 33.05, 33.18, 33.31, 33.42, 33.55, 33.70, 33.83, 33.96, 34.11,
    34.24, 34.39, 34.52, 34.67, 34.82, 34.95, 35.10, 35.23, 35.38, 35.51,
    35.64, 35.75, 35.88, 36.01, 36.16, 36.29, 36.44, 36.61, 36.76, 36.90,
    37.03, 37.14, 37.27, 37.40, 37.52, 37.65, 37.74, 37.91, 38.02, 38.17,
    38.30, 38.43, 38.54, 38.67, 38.80, 38.99, 39.10, 39.23, 39.36, 39.51,
    39.66, 39.79, 39.92,
]
disp_v_28 = [
    0.14, -0.1, -0.02, 0.19, 0.16, 0.0, 0.09, -0.14, 0.06, 0.45,
    0.72, 1.09, 1.35, 0.72, -0.07, -0.34, -0.6, -0.18, 0.14, 0.45,
    0.77, 0.96, 0.72, 0.53, 0.66, 0.45, 0.45, 0.43, 0.14, -0.92,
    -1.98, -2.71, -2.95, -2.29, -1.29, -0.76, -0.18, -0.07, -0.05, 0.14,
    0.24, 0.39, 0.16, 0.22, 0.03, -0.27, -0.1, -0.02, -0.02, 0.08,
    0.51, 0.68, 0.51, 0.03, -0.39, -0.71, -0.87, -0.58, -0.39, -0.23,
    -0.28, -0.07, 0.35, 0.88, 1.3, 2.04, 2.41, 2.54, 2.35, 1.72,
    1.09, 0.24, -0.39, -0.44, -0.23, 0.0, -0.07, 0.22, -0.23, -1.39,
    -1.55, -1.63, -1.34, -1.23, -1.26, -1.1, -1.29, -1.16, -1.18, -0.87,
    -0.34, 0.35, 0.66,
]
disp_t_40 = [
    40.10, 40.21, 40.34, 40.44, 40.57, 40.72, 40.87, 41.00, 41.14, 41.29,
    41.37, 41.55, 41.70, 41.83, 41.96, 42.11, 42.24, 42.35, 42.48, 42.61,
    42.76, 42.86, 42.95, 43.08, 43.23, 43.34, 43.45, 43.60, 43.75, 43.88,
    44.01, 44.16, 44.29, 44.44, 44.57, 44.68, 44.81, 44.90, 45.00, 45.13,
    45.27, 45.40, 45.55, 45.65, 45.78, 45.89, 46.02, 46.15, 46.26, 46.39,
    46.50, 46.63, 46.76, 46.91, 47.04, 47.17, 47.30, 47.45, 47.60, 47.69,
    47.82, 47.94, 48.07, 48.16, 48.29, 48.38, 48.50, 48.63, 48.76, 48.89,
    49.00, 49.13, 49.24, 49.37, 49.52, 49.65, 49.78, 49.93, 50.12, 50.25,
    50.36, 50.49, 50.62, 50.77, 50.86, 51.05, 51.16, 51.28, 51.41, 51.53,
    51.64, 51.75, 51.88, 52.01, 52.16, 52.27, 52.38, 52.49, 52.62, 52.75,
    52.86, 52.99, 53.12, 53.27, 53.42, 53.55, 53.70, 53.83, 53.98, 54.10,
    54.20, 54.31, 54.43, 54.54, 54.65, 54.76, 54.89, 54.98, 55.09, 55.20,
    55.32, 55.45, 55.60, 55.77, 55.88, 56.01, 56.16, 56.29, 56.44, 56.57,
    56.72, 56.85, 57.00,
]
disp_v_40 = [
    0.81, 0.56, 0.37, 0.14, 0.24, 0.16, 0.56, 0.72, 0.98, 0.98,
    1.14, 1.35, 0.88, 0.03, -0.34, -0.52, -0.49, -0.55, -0.28, -0.13,
    0.03, 0.14, 0.14, -0.02, 0.08, 0.03, 0.19, 0.08, 0.06, -0.28,
    -0.34, -0.23, -0.15, -0.39, -0.6, -0.76, -0.81, -0.97, -1.0, -0.5,
    0.14, 0.77, 1.09, 0.88, 0.66, 0.45, 0.03, -0.13, -0.1, -0.23,
    -0.28, -0.28, -0.13, 0.45, 1.25, 1.61, 1.64, 0.82, -0.02, -0.28,
    -0.42, -0.23, 0.11, 0.19, 0.22, -0.02, -0.44, -0.92, -1.08, -0.87,
    -0.89, -0.81, -0.55, -0.34, -0.13, 0.14, 0.35, 0.56, 0.82, 1.01,
    0.98, 0.82, 0.74, 0.69, 0.61, 0.51, 0.45, 0.48, 0.45, 0.19,
    0.03, -0.13, -0.28, -0.23, -0.07, 0.0, -0.13, -0.28, -0.42, -0.55,
    -0.58, -0.76, -0.5, -0.18, 0.06, -0.07, -0.02, 0.14, 0.16, 0.27,
    0.14, -0.5, -0.81, -1.18, -1.34, -1.37, -1.39, -1.34, -0.87, -0.07,
    0.72, 1.25, 1.38, 1.56, 1.09, 0.77, 0.56, 0.27, 0.45, 0.77,
    1.06, 1.14, 1.01,
]

X_MAX = 57.0
X_TICKS = [0, 10, 20, 30, 40, 50]


def join(*parts):
    return np.concatenate([np.asarray(p, dtype=float) for p in parts])


def build_figure():
    acc_t = join(acc_t_00, acc_t_05, acc_t_10, acc_t_15, acc_t_20, acc_t_25,
                 acc_t_30, acc_t_35, acc_t_41, acc_t_46)
    acc = join(acc_v_00, acc_v_05, acc_v_10, acc_v_15, acc_v_20, acc_v_25,
               acc_v_30, acc_v_35, acc_v_41, acc_v_46) * 1e-3
    vel_t = join(vel_t_00, vel_t_10, vel_t_20, vel_t_29, vel_t_40)
    vel = join(vel_v_00, vel_v_10, vel_v_20, vel_v_29, vel_v_40) * 1e-3
    disp_t = join(disp_t_00, disp_t_10, disp_t_20, disp_t_28, disp_t_40)
    disp = join(disp_v_00, disp_v_10, disp_v_20, disp_v_28, disp_v_40) * 1e-4

    fig = make_subplots(rows=3, cols=1)
    fig.add_trace(go.Scatter(x=acc_t, y=acc, mode="lines",
                             line=dict(color="#000000", width=6.5)), row=1, col=1)
    fig.add_trace(go.Scatter(x=vel_t, y=vel, mode="lines",
                             line=dict(color="#0000ff", width=6.5)), row=2, col=1)
    fig.add_trace(go.Scatter(x=disp_t, y=disp, mode="lines",
                             line=dict(color="#ff0000", width=6.5, shape="spline", smoothing=0.6)),
                  row=3, col=1)

    font = "DejaVu Sans"
    axis_common = dict(
        showline=True, linecolor="#000000", linewidth=3.3, mirror=True,
        showgrid=True, gridcolor="#b0b0b0", gridwidth=3.3, zeroline=False,
        ticks="outside", ticklen=14.6, tickwidth=3.3, tickcolor="#000000",
        tickfont=dict(family=font, size=42, color="#000000"),
    )

    # panel positions measured on the reference (fractions of the plot area)
    y_domains = [[0.7293, 1.0], [0.3647, 0.6353], [0.0, 0.2711]]
    y_specs = [
        ("Acceleration (cm/s/s)", [-0.0241, 0.0242], 0.01, ".2f"),
        ("Velocity (cm/s)", [-0.0021, 0.0021], 0.001, ".3f"),
        ("Displacement (cm)", [-0.000406, 0.000406], 0.0002, ".4f"),
    ]
    for i in range(3):
        sfx = "" if i == 0 else str(i + 1)
        title, rng, dtick, fmt = y_specs[i]
        fig.layout["xaxis" + sfx].update(
            domain=[0, 1], range=[0, X_MAX], tickmode="array", tickvals=X_TICKS,
            ticklabelstandoff=-4,
            title=dict(text="Time (s)", font=dict(family=font, size=58, color="#000000"), standoff=20),
            **axis_common)
        fig.layout["yaxis" + sfx].update(
            domain=y_domains[i], range=rng, dtick=dtick, tick0=0, tickformat=fmt,
            title=dict(text=title, font=dict(family=font, size=58, color="#000000"), standoff=17),
            **axis_common)

    # the page body adds an 8px offset, so margins are shifted back by that much
    fig.update_layout(
        width=3600, height=2400,
        margin=dict(l=320, r=56, t=75, b=197),
        paper_bgcolor="#ffffff", plot_bgcolor="#ffffff",
        showlegend=False,
        font=dict(family=font, color="#000000"),
    )
    return fig


def main():
    fig = build_figure()
    fig.write_html("out.html")


if __name__ == "__main__":
    main()
